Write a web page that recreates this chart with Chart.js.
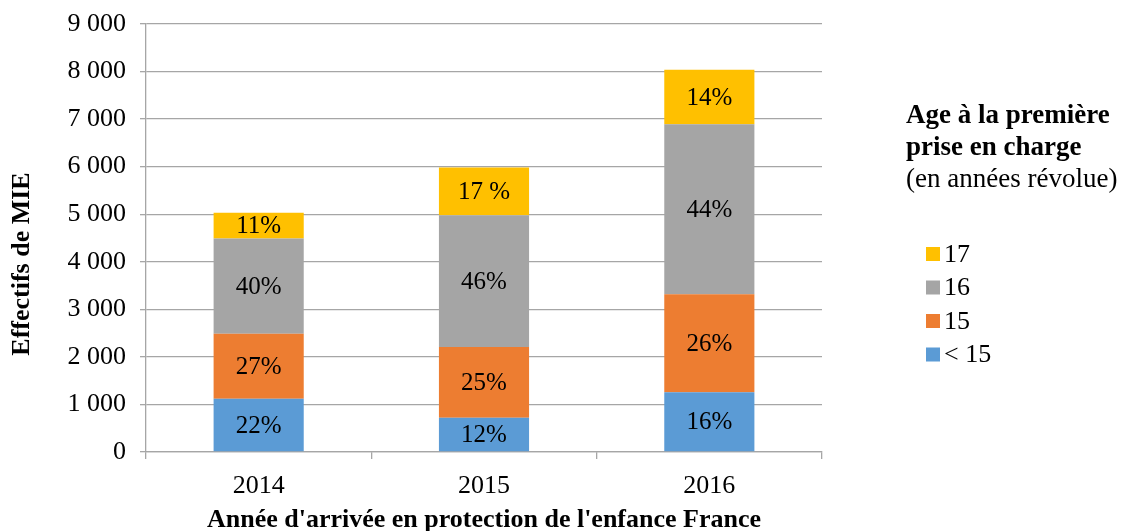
<!DOCTYPE html>
<html>
<head>
<meta charset="utf-8">
<script src="https://cdn.jsdelivr.net/npm/chart.js@4.4.1/dist/chart.umd.min.js"></script>
<style>
  html, body { margin: 0; padding: 0; background: #fff; }
  #wrap { width: 1128px; height: 531px; }
</style>
</head>
<body>
<div id="wrap"><canvas id="ageChart" width="1128" height="531"></canvas></div>
<script>
// years of arrival
const years = ['2014', '2015', '2016'];

// counts per age group
const under15 = [1120, 722, 1254];
const age15 = [1367, 1484, 2065];
const age16 = [2002, 2773, 3572];
const age17 = [540, 1002, 1148];

// percentage labels printed in the bars
const under15Pct = ['22%', '12%', '16%'];
const age15Pct = ['27%', '25%', '26%'];
const age16Pct = ['40%', '46%', '44%'];
const age17Pct = ['11%', '17 %', '14%'];

const yTickLabels = ['0', '1 000', '2 000', '3 000', '4 000', '5 000', '6 000', '7 000', '8 000', '9 000'];

const serif = "'Liberation Serif', 'Times New Roman', serif";
const gridGray = '#a6a6a6';

// write the percentage in the middle of each bar segment
const segmentLabels = {
    id: 'segmentLabels',
    afterDatasetsDraw(chart) {
        const ctx = chart.ctx;
        ctx.save();
        ctx.font = '25px ' + serif;
        ctx.fillStyle = '#000';
        ctx.textAlign = 'center';
        ctx.textBaseline = 'middle';
        chart.data.datasets.forEach((ds, i) => {
            chart.getDatasetMeta(i).data.forEach((bar, j) => {
                ctx.fillText(ds.pctLabels[j], bar.x, (bar.y + bar.base) / 2 + 1);
            });
        });
        ctx.restore();
    }
};

// y title (sits a bit below the axis middle in the original) and legend block on the right
const sideTexts = {
    id: 'sideTexts',
    afterDraw(chart) {
        const ctx = chart.ctx;
        ctx.save();
        ctx.fillStyle = '#000';
        ctx.textBaseline = 'middle';

        ctx.save();
        ctx.translate(22, 264);
        ctx.rotate(-Math.PI / 2);
        ctx.textAlign = 'center';
        ctx.font = 'bold 26px ' + serif;
        ctx.fillText('Effectifs de MIE', 0, 0);
        ctx.restore();

        const x0 = 906;
        ctx.textAlign = 'left';
        ctx.font = 'bold 27px ' + serif;
        ctx.fillText('Age à la première', x0, 116);
        ctx.fillText('prise en charge', x0, 148);
        ctx.font = '27px ' + serif;
        ctx.fillText('(en années révolue)', x0, 180);

        ctx.font = '26px ' + serif;
        const items = chart.data.datasets.slice().reverse();
        items.forEach((ds, k) => {
            const y = 254 + k * 33.5;
            ctx.fillStyle = ds.backgroundColor;
            ctx.fillRect(926, y - 7, 14, 14);
            ctx.fillStyle = '#000';
            ctx.fillText(ds.label, 944, y + 1);
        });
        ctx.restore();
    }
};

new Chart(document.getElementById('ageChart'), {
    type: 'bar',
    data: {
        labels: years,
        datasets: [
            { label: '< 15', data: under15, pctLabels: under15Pct, backgroundColor: '#5b9bd5' },
            { label: '15', data: age15, pctLabels: age15Pct, backgroundColor: '#ed7d31' },
            { label: '16', data: age16, pctLabels: age16Pct, backgroundColor: '#a5a5a5' },
            { label: '17', data: age17, pctLabels: age17Pct, backgroundColor: '#ffc000' }
        ]
    },
    options: {
        responsive: false,
        animation: false,
        events: [],
        layout: { padding: { left: 6, right: 306, top: 24, bottom: 0 } },
        datasets: {
            bar: { categoryPercentage: 1, barPercentage: 0.4, borderWidth: 0 }
        },
        plugins: {
            legend: { display: false },
            tooltip: { enabled: false }
        },
        scales: {
            x: {
                stacked: true,
                afterFit(scale) { scale.height = 79; },
                grid: {
                    offset: true,
                    drawOnChartArea: false,
                    drawTicks: true,
                    tickLength: 7,
                    color: gridGray,
                    lineWidth: 1.3
                },
                border: { color: gridGray, width: 1.3 },
                ticks: {
                    color: '#000',
                    padding: 12,
                    font: { family: serif, size: 26 }
                },
                title: {
                    display: true,
                    text: "Année d'arrivée en protection de l'enfance France",
                    color: '#000',
                    font: { family: serif, size: 26, weight: 'bold' },
                    padding: { top: 0, bottom: -5 }
                }
            },
            y: {
                stacked: true,
                min: 0,
                max: 9000,
                afterFit(scale) {
                    scale.width = 140;
                    scale.paddingTop = 0;
                    scale.paddingBottom = 0;
                },
                grid: {
                    color: gridGray,
                    lineWidth: 1.3,
                    drawTicks: true,
                    tickLength: 6
                },
                border: { color: gridGray, width: 1.3 },
                ticks: {
                    stepSize: 1000,
                    color: '#000',
                    padding: 14,
                    font: { family: serif, size: 26 },
                    callback: (value, index) => yTickLabels[index]
                }
            }
        }
    },
    plugins: [segmentLabels, sideTexts]
});
</script>
</body>
</html>
